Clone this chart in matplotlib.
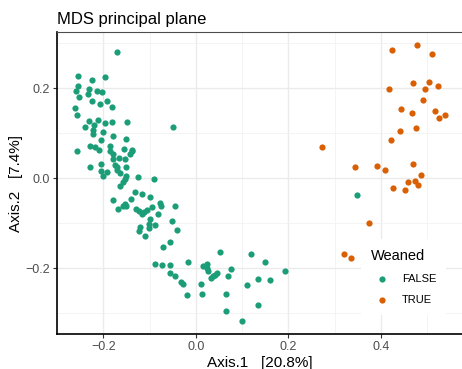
import matplotlib
matplotlib.use("Agg")
import matplotlib.pyplot as plt
from matplotlib.ticker import MultipleLocator

plt.rcParams['font.family'] = ['Liberation Sans', 'DejaVu Sans']

# MDS coordinates, Weaned = FALSE
false_x = [-0.171, -0.254, -0.224, -0.197, -0.254, -0.259, -0.230, -0.234, -0.213, -0.202,
           -0.252, -0.225, -0.207, -0.192, -0.181, -0.262, -0.257, -0.230, -0.212, -0.197,
           -0.181, -0.149, -0.049, -0.240, -0.220, -0.222, -0.200, -0.223, -0.179, -0.151,
           -0.205, -0.256, -0.229, -0.217, -0.209, -0.185, -0.186, -0.179, -0.155, -0.143,
           -0.139, -0.137, -0.180, -0.166, -0.154, -0.205, -0.175, -0.170, -0.150, -0.228,
           -0.204, -0.193, -0.171, -0.164, -0.200, -0.150, -0.153, -0.157, -0.125, -0.090,
           -0.164, -0.132, -0.117, -0.099, -0.141, -0.180, -0.078, -0.076, -0.153, -0.157,
           -0.151, -0.169, -0.129, -0.122, -0.116, -0.111, -0.105, -0.095, -0.081, -0.045,
           -0.098, -0.052, -0.121, -0.123, -0.102, -0.102, -0.089, -0.040, -0.109, -0.055,
           -0.071, -0.088, -0.073, -0.055, -0.017, 0.052, 0.120, 0.149, 0.193, 0.015,
           0.025, 0.023, 0.026, 0.045, 0.041, 0.037, 0.033, 0.076, 0.070, -0.056,
           -0.046, -0.032, -0.028, 0.135, 0.161, 0.111, 0.012, -0.019, 0.014, 0.065,
           0.135, 0.066, 0.100, 0.348]
false_y = [0.280, 0.228, 0.219, 0.224, 0.205, 0.194, 0.198, 0.187, 0.194, 0.192,
           0.180, 0.171, 0.165, 0.172, 0.158, 0.157, 0.140, 0.127, 0.129, 0.123,
           0.124, 0.126, 0.113, 0.114, 0.118, 0.107, 0.103, 0.098, 0.093, 0.088,
           0.084, 0.061, 0.072, 0.069, 0.062, 0.072, 0.060, 0.055, 0.064, 0.055,
           0.060, 0.063, 0.042, 0.044, 0.043, 0.032, 0.030, 0.026, 0.026, 0.024,
           0.017, 0.014, 0.018, 0.012, 0.005, 0.005, -0.002, -0.008, 0.002, -0.002,
           -0.017, -0.031, -0.034, -0.042, -0.046, -0.048, -0.054, -0.061, -0.058, -0.062,
           -0.062, -0.069, -0.068, -0.073, -0.080, -0.076, -0.070, -0.064, -0.080, -0.061,
           -0.091, -0.096, -0.108, -0.117, -0.102, -0.111, -0.103, -0.116, -0.129, -0.142,
           -0.152, -0.191, -0.192, -0.192, -0.185, -0.163, -0.168, -0.185, -0.205, -0.195,
           -0.191, -0.200, -0.206, -0.210, -0.214, -0.218, -0.222, -0.201, -0.218, -0.211,
           -0.217, -0.230, -0.236, -0.224, -0.226, -0.238, -0.234, -0.260, -0.257, -0.257,
           -0.281, -0.296, -0.317, -0.037]

# MDS coordinates, Weaned = TRUE
true_x = [0.478, 0.424, 0.511, 0.470, 0.503, 0.523, 0.495, 0.418, 0.490, 0.443,
          0.467, 0.517, 0.525, 0.538, 0.442, 0.476, 0.422, 0.272, 0.343, 0.391,
          0.408, 0.470, 0.487, 0.474, 0.459, 0.481, 0.425, 0.451, 0.374, 0.319,
          0.336]
true_y = [0.296, 0.284, 0.277, 0.212, 0.213, 0.206, 0.198, 0.198, 0.174, 0.155,
          0.145, 0.149, 0.135, 0.140, 0.106, 0.112, 0.085, 0.069, 0.024, 0.028,
          0.018, 0.032, 0.007, -0.005, -0.009, -0.016, -0.022, -0.026, -0.100, -0.168,
          -0.177]

fig = plt.figure(figsize=(4.62, 3.69), dpi=100)
ax = fig.add_axes([57 / 462, 35 / 369, 405 / 462, 302 / 369])

ax.scatter(false_x, false_y, s=20, color='#1B9E77', linewidths=0, label='FALSE', zorder=3)
ax.scatter(true_x, true_y, s=20, color='#D95F02', linewidths=0, label='TRUE', zorder=3)

ax.set_xlim(-0.300, 0.575)
ax.set_ylim(-0.346, 0.325)
ax.xaxis.set_major_locator(MultipleLocator(0.2))
ax.yaxis.set_major_locator(MultipleLocator(0.2))
ax.xaxis.set_minor_locator(MultipleLocator(0.1))
ax.yaxis.set_minor_locator(MultipleLocator(0.1))
ax.xaxis.set_major_formatter(lambda v, p: f"{v:.1f}".replace('-', '\u2212'))
ax.yaxis.set_major_formatter(lambda v, p: f"{v:.1f}".replace('-', '\u2212'))

ax.grid(True, which='major', color='#EBEBEB', linewidth=1.0, zorder=0)
ax.grid(True, which='minor', color='#F2F2F2', linewidth=0.6, zorder=0)
ax.set_axisbelow(True)

ax.tick_params(which='major', length=3, width=0.8, color='#333333',
               labelsize=9, labelcolor='#4D4D4D', pad=2)
ax.tick_params(which='minor', length=0)

ax.spines['right'].set_visible(False)
ax.spines['top'].set_color('#4D4D4D')
ax.spines['top'].set_linewidth(0.8)
for side in ['left', 'bottom']:
    ax.spines[side].set_color('black')
    ax.spines[side].set_linewidth(1.2)

ax.set_xlabel("Axis.1   [20.8%]", fontsize=11, labelpad=2)
ax.set_ylabel("Axis.2   [7.4%]", fontsize=11, labelpad=2)
ax.set_title("MDS principal plane", fontsize=12, loc='left', pad=6)

leg = ax.legend(title='Weaned', loc='lower left', bbox_to_anchor=(0.736, 0.045),
                fontsize=8, title_fontsize=10.5, frameon=True, markerscale=1.0,
                handletextpad=0.8, labelspacing=1.0, borderpad=0.9)
leg.get_frame().set_facecolor('white')
leg.get_frame().set_edgecolor('none')
leg.get_frame().set_alpha(1.0)
leg._legend_box.align = 'left'

fig.savefig("out.png", dpi=100)
